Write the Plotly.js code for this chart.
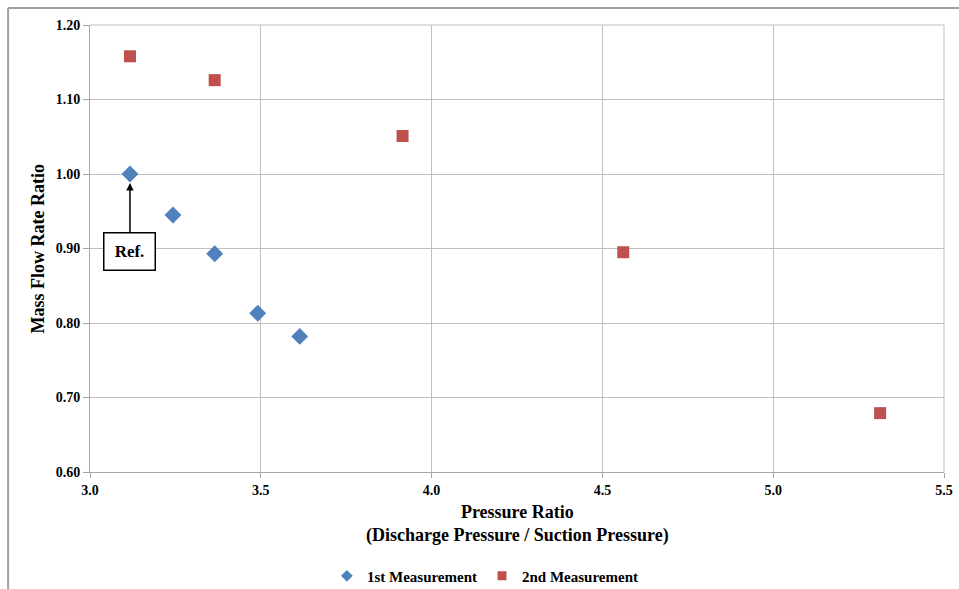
<!DOCTYPE html>
<html>
<head>
<meta charset="utf-8">
<script src="https://cdn.plot.ly/plotly-3.0.1.min.js"></script>
<style>html,body{margin:0;padding:0;background:#fff;}#chart{width:959px;height:589px;}</style>
</head>
<body>
<div id="chart"></div>
<script>
var firstX = [3.117, 3.243, 3.365, 3.491, 3.614];
var firstY = [1.000, 0.945, 0.893, 0.813, 0.782];
var secondX = [3.117, 3.365, 3.915, 4.561, 5.313];
var secondY = [1.158, 1.126, 1.051, 0.895, 0.679];
var seriesNames = ["1st Measurement", "2nd Measurement"];
var xTicks = [3.0, 3.5, 4.0, 4.5, 5.0, 5.5];
var yTicks = [0.60, 0.70, 0.80, 0.90, 1.00, 1.10, 1.20];
var xTitle = "<b>Pressure Ratio<br>(Discharge Pressure / Suction Pressure)</b>";
var yTitle = "<b>Mass Flow Rate Ratio</b>";

var serif = "Liberation Serif, Times New Roman, serif";
var blue = "#4F81BD", red = "#C0504D";
var traces = [
  {x: firstX, y: firstY, name: seriesNames[0], type: "scatter", mode: "markers", showlegend: false,
   legendgroup: "a", marker: {symbol: "diamond", size: 13, color: blue}},
  {x: secondX, y: secondY, name: seriesNames[1], type: "scatter", mode: "markers", showlegend: false,
   legendgroup: "b", marker: {symbol: "square", size: 12, color: red}},
  {x: [null], y: [null], name: seriesNames[0], type: "scatter", mode: "markers", legendgroup: "a",
   marker: {symbol: "diamond", size: 9, color: blue}},
  {x: [null], y: [null], name: seriesNames[1], type: "scatter", mode: "markers", legendgroup: "b",
   marker: {symbol: "square", size: 9, color: red}}
];
var layout = {
  width: 959, height: 589,
  margin: {l: 90, r: 15, t: 25, b: 117, autoexpand: false},
  paper_bgcolor: "#fff", plot_bgcolor: "#fff",
  font: {family: serif, color: "#000"},
  showlegend: true,
  legend: {orientation: "h", x: 0.463, xanchor: "center", y: -0.196, yanchor: "top",
           font: {family: serif, size: 15, color: "#000", weight: "bold"},
           itemwidth: 30, tracegroupgap: 0},
  xaxis: {range: [3.0, 5.5], tickvals: xTicks, ticktext: xTicks.map(function(v){return v.toFixed(1);}),
          showgrid: true, gridcolor: "#bfbfbf", gridwidth: 1, zeroline: false, automargin: false,
          showline: true, linecolor: "#a6a6a6", ticks: "outside", ticklen: 5, tickcolor: "#a6a6a6",
          tickfont: {family: serif, size: 14, weight: "bold"}, mirror: false},
  yaxis: {range: [0.60, 1.20], tickvals: yTicks, ticktext: yTicks.map(function(v){return v.toFixed(2);}),
          showgrid: true, gridcolor: "#bfbfbf", gridwidth: 1, zeroline: false, automargin: false,
          showline: true, linecolor: "#a6a6a6", ticks: "outside", ticklen: 6, tickcolor: "#a6a6a6",
          tickfont: {family: serif, size: 14, weight: "bold"}},
  shapes: [
    {type: "line", xref: "paper", yref: "paper", x0: 1, x1: 1, y0: 0, y1: 1, line: {color: "#bfbfbf", width: 1}},
    {type: "line", xref: "paper", yref: "paper", x0: 0, x1: 1, y0: 1, y1: 1, line: {color: "#bfbfbf", width: 1}},
    {type: "line", xref: "paper", yref: "paper", x0: -0.0959, x1: 1.02, y0: 1.038, y1: 1.038, line: {color: "#a0a0a0", width: 2}},
    {type: "line", xref: "paper", yref: "paper", x0: -0.0959, x1: -0.0959, y0: 1.038, y1: -0.27, line: {color: "#a0a0a0", width: 2}}
  ],
  annotations: [
    {x: firstX[0], y: firstY[0], xref: "x", yref: "y", text: "<b>Ref.</b>",
     showarrow: true, arrowhead: 2, arrowsize: 1, arrowwidth: 1.5, arrowcolor: "#000",
     ax: 0, ay: 77, standoff: 9, bordercolor: "#000", borderwidth: 1.5, borderpad: 7,
     width: 36, height: 22,
     bgcolor: "#fff", font: {family: serif, size: 17, color: "#000"}},
    {x: 0.5, y: -0.062, xref: "paper", yref: "paper", xanchor: "center", yanchor: "top",
     text: xTitle, showarrow: false, font: {family: serif, size: 18, color: "#000"}},
    {x: -0.061, y: 0.5, xref: "paper", yref: "paper", xanchor: "center", yanchor: "middle",
     text: yTitle, textangle: -90, showarrow: false, font: {family: serif, size: 18, color: "#000"}}
  ]
};
Plotly.newPlot("chart", traces, layout, {displayModeBar: false, staticPlot: true});
</script>
</body>
</html>
